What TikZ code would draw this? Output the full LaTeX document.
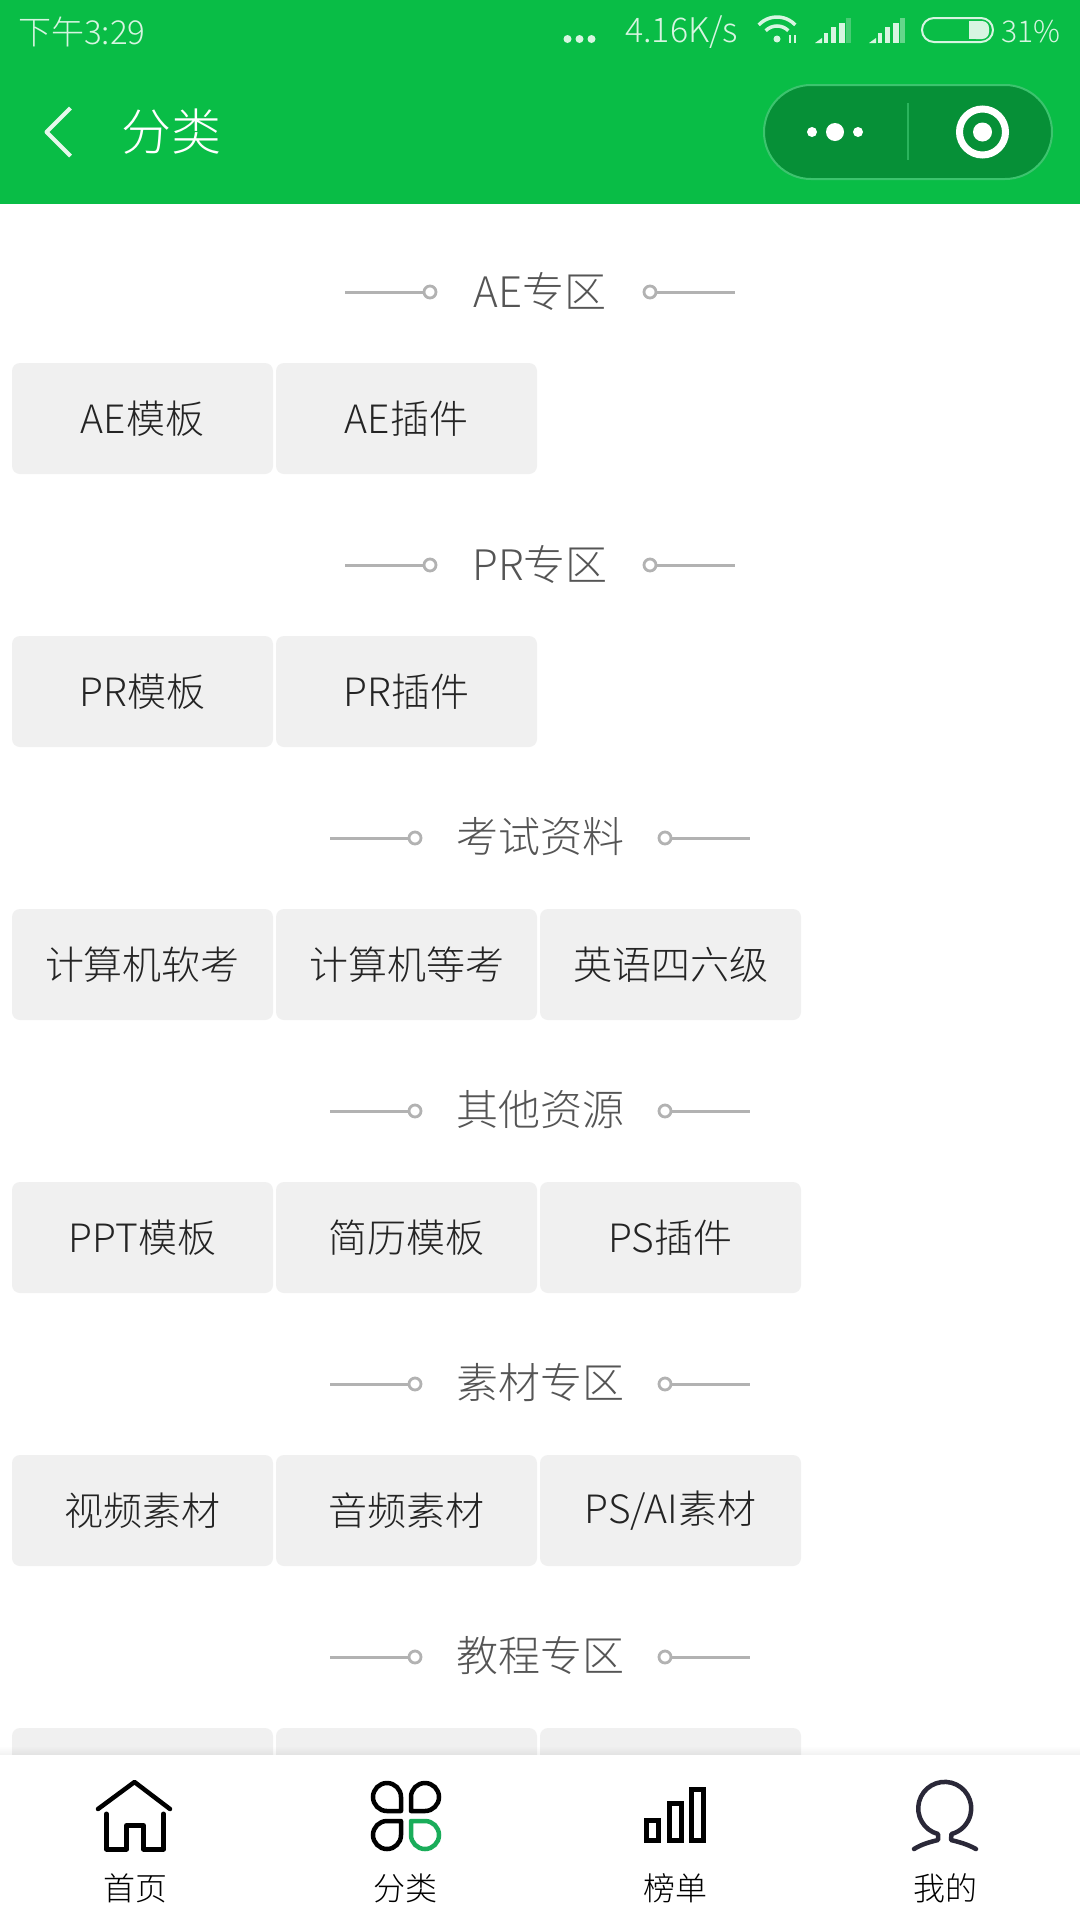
\documentclass[tikz,border=0pt]{standalone}
\usepackage{fontspec}
\setmainfont{Noto Sans CJK SC}[UprightFont=* Light]
\definecolor{colorHeader}{RGB}{9,189,70}
\definecolor{colorCapsule}{RGB}{6,144,55}
\definecolor{colorCapsuleLine}{RGB}{60,196,110}
\definecolor{colorStatus}{RGB}{215,245,225}
\definecolor{colorOrnament}{RGB}{178,178,178}
\definecolor{colorTitle}{RGB}{85,85,85}
\definecolor{colorButton}{RGB}{240,240,240}
\definecolor{colorButtonText}{RGB}{36,36,36}
\definecolor{colorActive}{RGB}{26,173,90}
\definecolor{colorPerson}{RGB}{42,40,56}
\tikzset{
	statustext/.style={inner sep=0, text=colorStatus, font=\fontsize{33}{38}\selectfont},
	titletext/.style={inner sep=0, text=colorTitle, font=\fontsize{42}{48}\selectfont},
	buttonbox/.style={inner sep=0, minimum width=261, minimum height=111, rounded corners=8, fill=colorButton, text=colorButtonText, font=\fontsize{39}{46}\selectfont},
	tabtext/.style={inner sep=0, text=black, font=\fontsize{32}{36}\selectfont},
	ring/.style={circle, draw=colorOrnament, line width=2.8, inner sep=0, minimum size=12},
	titleline/.style={color=colorOrnament, line width=3},
	iconline/.style={line width=4.5, line join=round, line cap=round},
}
\newcommand\titleY[1]{291+273*#1}
\newcommand\drawTitle[3]{
	\node[titletext] (title#1) at (540,{\titleY{#1}}) {#3};
	\node[ring] (ringL#1) at (540-#2,{\titleY{#1}+1}) {};
	\node[ring] (ringR#1) at (540+#2,{\titleY{#1}+1}) {};
	\coordinate (endL#1) at (540-#2-85,{\titleY{#1}+1});
	\coordinate (endR#1) at (540+#2+85,{\titleY{#1}+1});
	\draw[titleline] (endL#1) -- (ringL#1);
	\draw[titleline] (ringR#1) -- (endR#1);
}
\newcommand\drawButton[3]{
	\node[buttonbox] (btn#2x#1) at (142.5+264*#1,418.5+273*#2) {#3};
}
\newcommand\drawSignal[2]{
	\fill[colorStatus] (815+#1,43) -- (822+#1,43) -- (822+#1,38) -- cycle;
	\fill[colorStatus] (824+#1,33) rectangle (828+#1,43);
	\fill[colorStatus] (831+#1,27) rectangle (836+#1,43);
	\fill[colorStatus] (839+#1,23) rectangle (845+#1,43);
	\fill[colorStatus, opacity=#2] (846+#1,18) rectangle (851+#1,43);
}
\begin{document}
\begin{tikzpicture}[x=1pt,y=-1pt]
	\useasboundingbox (0,0) rectangle (1080,1920);
	\fill[white] (0,0) rectangle (1080,1920);
	\fill[colorHeader] (0,0) rectangle (1080,204);

	% status bar
	\node[statustext, anchor=west] (clock) at (18,32) {下午3:29};
	\node[statustext, anchor=west, font=\fontsize{34}{38}\selectfont] (speed) at (625,32) {4.16K/s};
	\node[statustext, anchor=east, font=\fontsize{30}{38}\selectfont] (percent) at (1061,32) {31\%};
	\foreach \x in {567.5,579.5,591.5}{
		\fill[colorStatus] (\x,39) circle (4);
	}
	\draw[colorStatus, line width=3.5] (777,42) ++(223:25) arc[start angle=223, end angle=317, radius=25];
	\draw[colorStatus, line width=3.5] (777,42) ++(225:16) arc[start angle=225, end angle=315, radius=16];
	\fill[colorStatus] (777,39) circle (3.5);
	\draw[colorStatus, line width=1.5] (790,35) -- (790,43);
	\draw[colorStatus, line width=1.5] (795,35) -- (795,43);
	\drawSignal{0}{0.3}
	\drawSignal{54}{0.45}
	\draw[colorStatus, line width=2, rounded corners=12] (922,18) rectangle (993,42);
	\fill[colorStatus, rounded corners=7] (969,21) rectangle (989,39);
	\fill[colorStatus] (969,21) rectangle (978,39);

	% header
	\draw[color=white, opacity=0.9, line width=4, line join=round] (70.5,108) -- (46.5,132) -- (70.5,156);
	\node[inner sep=0, text=white, font=\fontsize{50}{56}\selectfont] (heading) at (171,132) {分类};
	\draw[fill=colorCapsule, draw=colorCapsuleLine, line width=2, rounded corners=47] (764,85) rectangle (1052,179);
	\draw[color=colorCapsuleLine, line width=2, opacity=0.7] (908,103) -- (908,160);
	\fill[white] (812,132) circle (5);
	\fill[white] (835,132) circle (9);
	\fill[white] (858,132) circle (5);
	\draw[white, line width=7] (982.5,132) circle (23);
	\fill[white] (982.5,132) circle (9.5);

	% sections
	\drawTitle{0}{110}{AE专区}
	\drawTitle{1}{110}{PR专区}
	\drawTitle{2}{125}{考试资料}
	\drawTitle{3}{125}{其他资源}
	\drawTitle{4}{125}{素材专区}
	\drawTitle{5}{125}{教程专区}

	\drawButton{0}{0}{AE模板}
	\drawButton{1}{0}{AE插件}
	\drawButton{0}{1}{PR模板}
	\drawButton{1}{1}{PR插件}
	\drawButton{0}{2}{计算机软考}
	\drawButton{1}{2}{计算机等考}
	\drawButton{2}{2}{英语四六级}
	\drawButton{0}{3}{PPT模板}
	\drawButton{1}{3}{简历模板}
	\drawButton{2}{3}{PS插件}
	\drawButton{0}{4}{视频素材}
	\drawButton{1}{4}{音频素材}
	\drawButton{2}{4}{PS/AI素材}
	\drawButton{0}{5}{}
	\drawButton{1}{5}{}
	\drawButton{2}{5}{}

	% tab bar
	\foreach \i in {1,...,8}{
		\pgfmathsetmacro\shadowOpacity{0.006*\i}
		\fill[black, opacity=\shadowOpacity] (0,1746+\i) rectangle (1080,1747+\i);
	}
	\fill[white] (0,1755) rectangle (1080,1920);
	\node[tabtext] (tabHome) at (135,1888) {首页};
	\node[tabtext] (tabCategory) at (405,1888) {分类};
	\node[tabtext] (tabRank) at (675,1888) {榜单};
	\node[tabtext] (tabMine) at (945,1888) {我的};

	\draw[iconline] (98,1809) -- (134.5,1782) -- (170,1809);
	\draw[iconline, line width=5] (106.5,1814) -- (106.5,1849) -- (126.5,1849) -- (126.5,1825.5) -- (143.5,1825.5) -- (143.5,1849) -- (163.5,1849) -- (163.5,1814);

	\foreach \cx/\cy/\sx/\sy/\petal in {387/1797/1/1/black, 425/1797/-1/1/black, 387/1835/1/-1/black, 425/1835/-1/-1/colorActive}{
		\begin{scope}[shift={(\cx,\cy)}, xscale=\sx, yscale=\sy]
			\draw[color=\petal, line width=4.5, line cap=round, rounded corners=14] (14,14) -- (-14,14) -- (-14,-14) -- (14,-14) -- (14,14);
		\end{scope}
	}

	\draw[line width=5] (646.5,1820) rectangle (658.5,1840);
	\draw[line width=5] (669,1803) rectangle (681,1840);
	\draw[line width=5] (691.5,1789) rectangle (703.5,1840);

	\draw[color=colorPerson, iconline] (914,1849) .. controls (922,1844) and (930,1842) .. (938,1840) -- (938,1834)
		arc[start angle=104.7, end angle=435.3, radius=26.5] -- (951,1840) .. controls (959,1842) and (967,1844) .. (976,1849);
\end{tikzpicture}
\end{document}
